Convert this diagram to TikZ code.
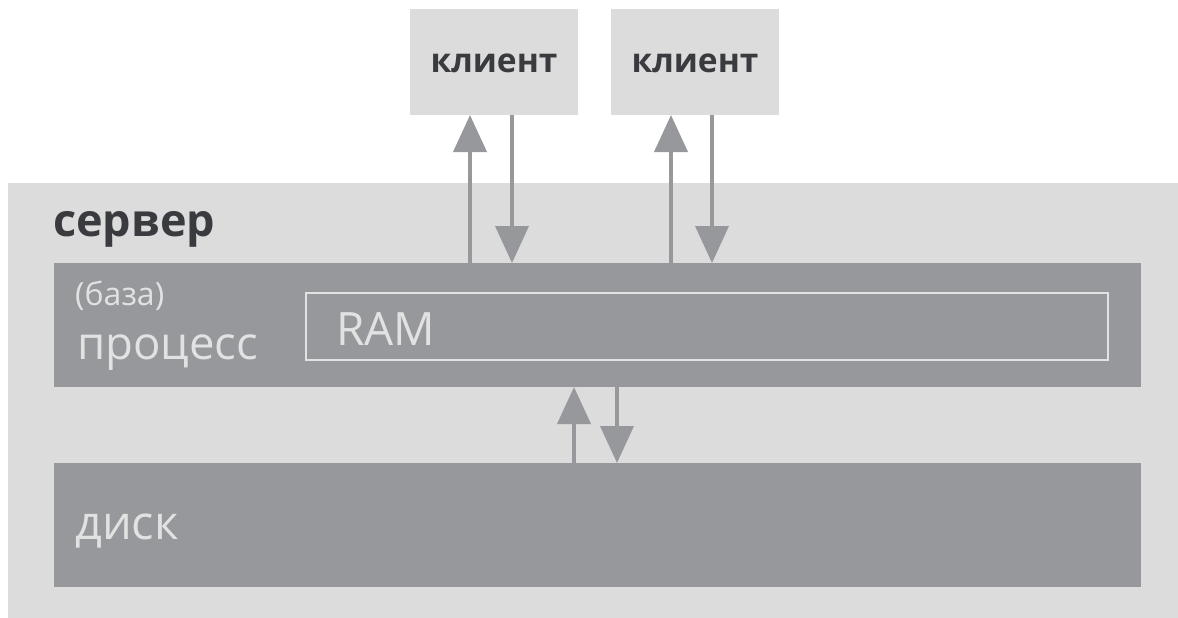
\documentclass[tikz,border=0pt]{standalone}
\usepackage{fontspec}
\setmainfont{Open Sans}
\usetikzlibrary{arrows.meta}
\definecolor{lightbg}{HTML}{DCDCDC}
\definecolor{darkbox}{HTML}{96989C}
\definecolor{darktext}{HTML}{3A3B3F}
\definecolor{lighttext}{HTML}{E2E2E2}
\definecolor{arrowcol}{HTML}{96989C}
\tikzset{
  box/.style={rectangle, inner sep=0pt, outer sep=0pt, anchor=north west},
  lbox/.style={box, fill=lightbg},
  dbox/.style={box, fill=darkbox},
  flow/.style={draw=arrowcol, line width=4pt, -{Triangle[width=33pt,length=37pt]}},
  lbl/.style={inner sep=0pt, anchor=base west},
}
\begin{document}
\begin{tikzpicture}[x=1pt,y=-1pt]
\useasboundingbox (0,0) rectangle (1178,618);
% server
\node[lbox, minimum width=1170pt, minimum height=435pt] (srv) at (8,183) {};
\node[lbl, text=darktext, font=\bfseries\fontsize{45}{45}\selectfont] (srvlbl) at (53,236) {сервер};
% clients
\node[lbox, minimum width=168pt, minimum height=106pt] (cl1) at (410,9) {};
\node[lbox, minimum width=168pt, minimum height=106pt] (cl2) at (611,9) {};
\node[inner sep=0pt, anchor=base, text=darktext, font=\bfseries\fontsize{33.5}{33.5}\selectfont] (cl1lbl) at (494,73) {клиент};
\node[inner sep=0pt, anchor=base, text=darktext, font=\bfseries\fontsize{33.5}{33.5}\selectfont] (cl2lbl) at (695,73) {клиент};
% process
\node[dbox, minimum width=1087pt, minimum height=124pt] (proc) at (54,263) {};
\node[box, draw=lighttext, line width=1.6pt, minimum width=802pt, minimum height=67pt] (ram) at (306,293) {};
\node[lbl, text=lighttext, font=\fontsize{32}{32}\selectfont] (baza) at (75,305) {(база)};
\node[lbl, text=lighttext, font=\fontsize{45.5}{45.5}\selectfont] (proclbl) at (77,359) {процесс};
\node[lbl, text=lighttext, font=\fontsize{46}{46}\selectfont] (ramlbl) at (336,345) {RAM};
% disk
\node[dbox, minimum width=1087pt, minimum height=124pt] (disk) at (54,463) {};
\node[lbl, text=lighttext, font=\fontsize{47}{47}\selectfont] (disklbl) at (75,539) {диск};
% arrow x positions
\coordinate (a1) at (470,0);
\coordinate (b1) at (512,0);
\coordinate (a2) at (671,0);
\coordinate (b2) at (712,0);
\coordinate (a3) at (574,0);
\coordinate (b3) at (617,0);
\draw[flow] (proc.north -| a1) -- (cl1.south -| a1);
\draw[flow] (cl1.south -| b1) -- (proc.north -| b1);
\draw[flow] (proc.north -| a2) -- (cl2.south -| a2);
\draw[flow] (cl2.south -| b2) -- (proc.north -| b2);
\draw[flow] (disk.north -| a3) -- (proc.south -| a3);
\draw[flow] (proc.south -| b3) -- (disk.north -| b3);
\end{tikzpicture}
\end{document}
